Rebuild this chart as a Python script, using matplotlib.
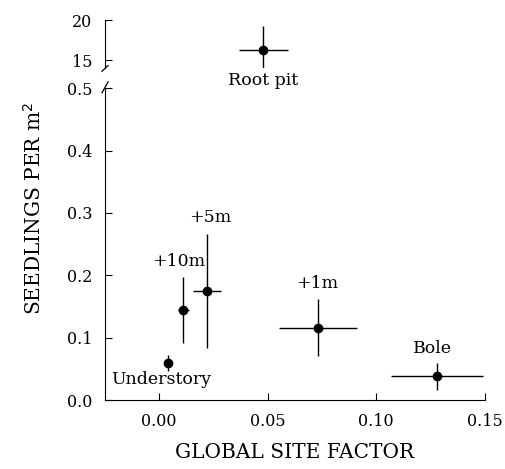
""" Seedlings per m2 against global site factor, with a broken y axis. """

import matplotlib
matplotlib.use('Agg')
import matplotlib.pyplot as plt


""" Data """

sites = ['Understory', '+10m', '+5m', '+1m', 'Bole']
site_factor = [0.004, 0.011, 0.022, 0.073, 0.128]
site_factor_err = [0.0, 0.0025, 0.0063, 0.018, 0.021]
seedlings = [0.060, 0.145, 0.175, 0.116, 0.038]
seedlings_err = [0.013, 0.053, 0.092, 0.046, 0.022]

root_pit_factor = 0.048
root_pit_factor_err = 0.0112
root_pit_seedlings = 16.25
root_pit_seedlings_err = 3.0

# label offsets in points, relative to each point
label_offsets = {
    'Understory': (-5, -12),
    '+10m': (-3.5, 34.5),
    '+5m': (2, 52.5),
    '+1m': (0, 31.5),
    'Bole': (-3, 20),
}

x_ticks = [0.00, 0.05, 0.10, 0.15]
low_ticks = [0.0, 0.1, 0.2, 0.3, 0.4, 0.5]
high_ticks = [15, 20]

""" Plot """

plt.rcParams['font.family'] = ['DejaVu Serif']
plt.rcParams['font.size'] = 11

fig = plt.figure(figsize=(5.06, 4.69), dpi=100)
ax = fig.add_axes([0.2075, 0.147, 0.7505, 0.665])
ax_top = fig.add_axes([0.2075, 0.855, 0.7505, 0.102], sharex=ax)

ax.errorbar(site_factor, seedlings, xerr=site_factor_err, yerr=seedlings_err,
            fmt='o', color='black', ms=6, elinewidth=1, capsize=0)
ax_top.errorbar([root_pit_factor], [root_pit_seedlings], xerr=[root_pit_factor_err],
                yerr=[root_pit_seedlings_err], fmt='o', color='black', ms=6,
                elinewidth=1, capsize=0)

for name, x, y in zip(sites, site_factor, seedlings):
    ax.annotate(name, (x, y), xytext=label_offsets[name], textcoords='offset points',
                ha='center', va='center', fontsize=12.5)
ax_top.annotate('Root pit', (root_pit_factor, root_pit_seedlings), xytext=(0, -22),
                textcoords='offset points', ha='center', va='center', fontsize=12.5)

ax.set_xlim(-0.025, 0.15)
ax.set_ylim(0, 0.5)
ax_top.set_ylim(14, 20)
ax.set_xticks(x_ticks)
ax.set_xticklabels([f'{t:.2f}' for t in x_ticks])
ax.set_yticks(low_ticks)
ax.set_yticklabels([f'{t:.1f}' for t in low_ticks])
ax_top.set_yticks(high_ticks)

for a in (ax, ax_top):
    a.spines['top'].set_visible(False)
    a.spines['right'].set_visible(False)
    a.tick_params(direction='in', length=5, width=0.8, pad=9, labelsize=11.5)
ax_top.spines['bottom'].set_visible(False)
ax_top.tick_params(axis='x', bottom=False, labelbottom=False)

# break marks on the left spine
kw = dict(color='black', lw=0.9, clip_on=False)
ax.plot([-0.008, 0.008], [0.985, 1.02], transform=ax.transAxes, **kw)
ax_top.plot([-0.008, 0.008], [-0.07, 0.05], transform=ax_top.transAxes, **kw)

ax.set_xlabel('GLOBAL SITE FACTOR', fontsize=14.5, labelpad=10)
fig.text(0.066, 0.556, 'SEEDLINGS PER m$^{2}$', rotation=90, ha='center',
         va='center', fontsize=14.5)

fig.savefig('out.png', dpi=100)
